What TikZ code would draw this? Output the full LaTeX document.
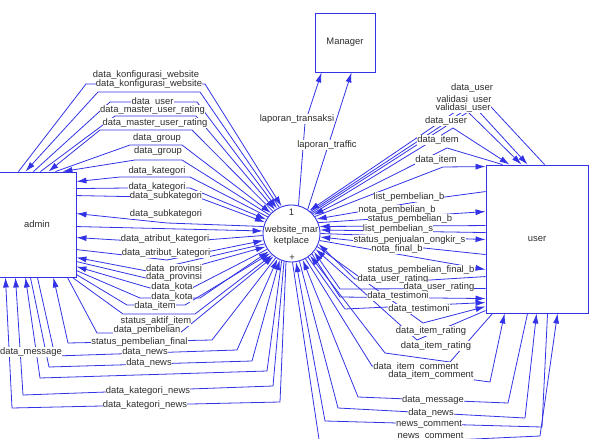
\documentclass[tikz,border=0pt]{standalone}
\usepackage{fontspec}
\setmainfont{Liberation Sans}
\usetikzlibrary{arrows.meta}
\definecolor{fblue}{RGB}{50,50,230}
\definecolor{ftext}{RGB}{45,45,45}
\tikzset{
  fl/.style={draw=fblue, line width=0.8pt, -{Latex[length=10pt,width=6pt]}},
  ent/.style={draw=fblue, line width=0.9pt, fill=white, rectangle, inner sep=0pt,
    font=\fontsize{9.4}{11}\selectfont, text=ftext},
  proc/.style={draw=fblue, line width=0.9pt, fill=white, circle, minimum size=57pt, inner sep=0pt},
  ptxt/.style={font=\fontsize{9.4}{11}\selectfont, text=ftext, inner sep=0pt},
  lbl/.style={font=\fontsize{9.4}{11}\selectfont, text=ftext, fill=white, inner sep=0.2pt,
    text height=6.8pt, text depth=2pt},
}
\begin{document}
\begin{tikzpicture}[x=1pt,y=-1pt]
\useasboundingbox (0,0) rectangle (592,439);
\clip (0,0) rectangle (592,439);
% entities and process
\node[ent, minimum width=78pt, minimum height=105pt] (admin) at (37,224.5) {admin};
\node[ent, minimum width=60pt, minimum height=59pt] (Manager) at (345,42.5) {Manager};
\node[ent, minimum width=102pt, minimum height=148pt] (user) at (537,239) {user};
\node[proc] (c) at (291.5,233.5) {};
\node[ptxt] (c1) at (291.5,212) {1};
\node[ptxt] (c2) at (291.5,230) {website\_mar};
\node[ptxt] (c3) at (291.5,241) {ketplace};
\node[ptxt] (c4) at (292,258) {+};

% admin top group
\draw[fl] ([xshift=-58pt]admin.north east) -- (86,84) -- (205,84) -- (c.110);
\draw[fl] (c.115) -- (200,92) -- (98,92) -- ([xshift=-51pt]admin.north east);
\draw[fl] ([xshift=-43pt]admin.north east) -- (110,102) -- (197,102) -- (c.120);
\draw[fl] ([xshift=-36pt]admin.north east) -- (115,116) -- (196,116) -- (c.125);
\draw[fl] (c.130) -- (192,130) -- (100,130) -- ([xshift=-28pt]admin.north east);
\draw[fl] ([xshift=-21pt]admin.north east) -- (130,145) -- (182,145) -- (c.135);
\draw[fl] (c.140) -- (182,160) -- (135,160) -- ([xshift=-14pt]admin.north east);
% admin right group
\draw[fl] (c.145) -- (190,177) -- (120,177) -- ([yshift=-10pt]admin.north east);
\draw[fl] ([yshift=-17pt]admin.north east) -- (128,188) -- (190,188) -- (c.151);
\draw[fl] ([yshift=-24pt]admin.north east) -- (200,198) -- (c.157);
\draw[fl] (c.166) -- (167,223) -- ([yshift=-42pt]admin.north east);
\draw[fl] ([yshift=-55pt]admin.north east) -- (c.175);
\draw[fl] (c.184) -- (167,243) -- ([yshift=-66pt]admin.north east);
\draw[fl] ([yshift=-78pt]admin.north east) -- (167,260) -- (c.194);
\draw[fl] (c.201) -- (147,271) -- ([yshift=-86pt]admin.north east);
\draw[fl] ([yshift=-90pt]admin.north east) -- (150,279) -- (c.207);
\draw[fl] (c.213) -- (192,288) -- (150,288) -- ([yshift=-95pt]admin.north east);
\draw[fl] ([yshift=-99pt]admin.north east) -- (140,298) -- (200,298) -- (c.218);
\draw[fl] ([yshift=-103pt]admin.north east) -- (127,305) -- (185,305) -- (c.223);
% admin bottom group
\draw[fl] ([xshift=-4pt]admin.south east) -- (123,314) -- (195,314) -- (c.228);
\draw[fl] ([xshift=-9pt]admin.south east) -- (97,333) -- (180,333) -- (c.232);
\draw[fl] (c.237) -- (212,340) -- (68,343) -- ([xshift=-23pt]admin.south east);
\draw[fl] ([xshift=-39pt]admin.south east) -- (55,356) -- (237,350) -- (c.241);
\draw[fl] ([xshift=-46pt]admin.south east) -- (49,367) -- (252,361) -- (c.246);
\draw[fl] (c.250) -- (267,371) -- (40,378) -- ([xshift=-51pt]admin.south east);
\draw[fl] (c.255) -- (273,386) -- (23,395) -- ([xshift=-61pt]admin.south east);
\draw[fl] (c.259) -- (280,402) -- (12,408) -- ([xshift=-71pt]admin.south east);
% manager
\draw[fl] (c.76) -- (305,123) -- ([xshift=7pt]Manager.south west);
\draw[fl] (c.56) -- ([xshift=37pt]Manager.south west);
% user top group
\draw[fl] ([xshift=59pt]user.north west) -- (480,95) -- (c.52);
\draw[fl] (c.49) -- (473,105) -- ([xshift=42pt]user.north west);
\draw[fl] (c.46) -- (468,112) -- ([xshift=36pt]user.north west);
\draw[fl] (c.43) -- (453,128) -- ([xshift=24pt]user.north west);
\draw[fl] ([xshift=17pt]user.north west) -- (447,148) -- (c.40);
\draw[fl] (c.36) -- (443,167) -- ([yshift=-2pt]user.north west);
% user left group
\draw[fl] ([yshift=-27pt]user.north west) -- (445,197) -- (c.30);
\draw[fl] (c.22) -- ([yshift=-47pt]user.north west);
\draw[fl] ([yshift=-61pt]user.north west) -- (c.14);
\draw[fl] ([yshift=-68pt]user.north west) -- (c.7);
\draw[fl] (c.0) -- ([yshift=-75pt]user.north west);
\draw[fl] ([yshift=-90pt]user.north west) -- (c.-7);
\draw[fl] (c.-14) -- ([yshift=-105pt]user.north west);
\draw[fl] ([yshift=-112pt]user.north west) -- (430,280) -- (355,279) -- (c.-21);
\draw[fl] ([yshift=-124pt]user.north west) -- (340,289) -- (c.-39);
\draw[fl] (c.-45) -- (340,297) -- ([yshift=-134pt]user.north west);
\draw[fl] (c.-55) -- (345,309) -- ([yshift=-138pt]user.north west);
\draw[fl] (c.-27) -- (423,323) -- ([yshift=-142pt]user.north west);
\draw[fl] ([yshift=-146pt]user.north west) -- (417,340) -- (c.-33);
% user bottom group
\draw[fl] ([xshift=7pt]user.south west) -- (450,362) -- (385,353) -- (c.-50);
\draw[fl] (c.-61) -- (372,366) -- (490,382) -- ([xshift=19pt]user.south west);
\draw[fl] ([xshift=42pt]user.south west) -- (508,403) -- (358,397) -- (c.-67);
\draw[fl] (c.-74) -- (338,408) -- (525,418) -- ([xshift=51pt]user.south west);
\draw[fl] ([xshift=62pt]user.south west) -- (542,427) -- (325,421) -- (c.-81);
\draw[fl] (c.-88) -- (320,446) -- (540,436) -- ([xshift=72pt]user.south west);

% labels
\node[lbl] (lF1) at (146,75) {data\_konfigurasi\_website};
\node[lbl] (lF2) at (149,84) {data\_konfigurasi\_website};
\node[lbl] (lF3) at (152.5,102) {data\_user};
\node[lbl] (lF4) at (152.5,110) {data\_master\_user\_rating};
\node[lbl] (lF5) at (155,123) {data\_master\_user\_rating};
\node[lbl] (lF6) at (157,138) {data\_group};
\node[lbl] (lF7) at (158,151) {data\_group};
\node[lbl] (lR1) at (157,171) {data\_kategori};
\node[lbl] (lR2) at (157,187) {data\_kategori};
\node[lbl] (lR3) at (166,196) {data\_subkategori};
\node[lbl] (lR4) at (166,214) {data\_subkategori};
\node[lbl] (lR6) at (165,239) {data\_atribut\_kategori};
\node[lbl] (lR7) at (166,253) {data\_atribut\_kategori};
\node[lbl] (lR8) at (174,269) {data\_provinsi};
\node[lbl] (lR9) at (174,277) {data\_provinsi};
\node[lbl] (lR10) at (172,287) {data\_kota};
\node[lbl] (lR11) at (172,297) {data\_kota};
\node[lbl] (lR12) at (155,306) {data\_item};
\node[lbl] (lB1) at (156,321.5) {status\_aktif\_item};
\node[lbl] (lB2) at (147,330.5) {data\_pembelian};
\node[lbl] (lB3) at (139.5,342) {status\_pembelian\_final};
\node[lbl] (lB4) at (145,352) {data\_news};
\node[lbl] (lB5) at (149,363) {data\_news};
\node[lbl] (lB6) at (31,352) {data\_message};
\node[lbl] (lB7) at (148,391) {data\_kategori\_news};
\node[lbl] (lB8) at (145,405) {data\_kategori\_news};
\node[lbl] (lM1) at (297,119) {laporan\_transaksi};
\node[lbl] (lM2) at (327,145) {laporan\_traffic};
\node[lbl] (lT1) at (472,88) {data\_user};
\node[lbl] (lT2) at (464,100) {validasi\_user};
\node[lbl] (lT3) at (463,108) {validasi\_user};
\node[lbl] (lT4) at (446,121) {data\_user};
\node[lbl] (lT5) at (438,140) {data\_item};
\node[lbl] (lT6) at (436,160) {data\_item};
\node[lbl] (lU1) at (409,197) {list\_pembelian\_b};
\node[lbl] (lU2) at (397,210) {nota\_pembelian\_b};
\node[lbl] (lU3) at (410,219) {status\_pembelian\_b};
\node[lbl] (lU4) at (398,229) {list\_pembelian\_s};
\node[lbl] (lU5) at (409.5,240) {status\_penjualan\_ongkir\_s};
\node[lbl] (lU6) at (397,249) {nota\_final\_b};
\node[lbl] (lU7) at (421,270) {status\_pembelian\_final\_b};
\node[lbl] (lU8) at (393,279) {data\_user\_rating};
\node[lbl] (lU9) at (439,287) {data\_user\_rating};
\node[lbl] (lV1) at (398,296) {data\_testimoni};
\node[lbl] (lV2) at (419,309) {data\_testimoni};
\node[lbl] (lV3) at (431,331) {data\_item\_rating};
\node[lbl] (lV4) at (436,346) {data\_item\_rating};
\node[lbl] (lV5) at (416,367) {data\_item\_comment};
\node[lbl] (lV6) at (431,375) {data\_item\_comment};
\node[lbl] (lV7) at (433,400) {data\_message};
\node[lbl] (lV8) at (431,413) {data\_news};
\node[lbl] (lV9) at (429,424) {news\_comment};
\node[lbl] (lV10) at (430.5,436) {news\_comment};
\end{tikzpicture}
\end{document}
